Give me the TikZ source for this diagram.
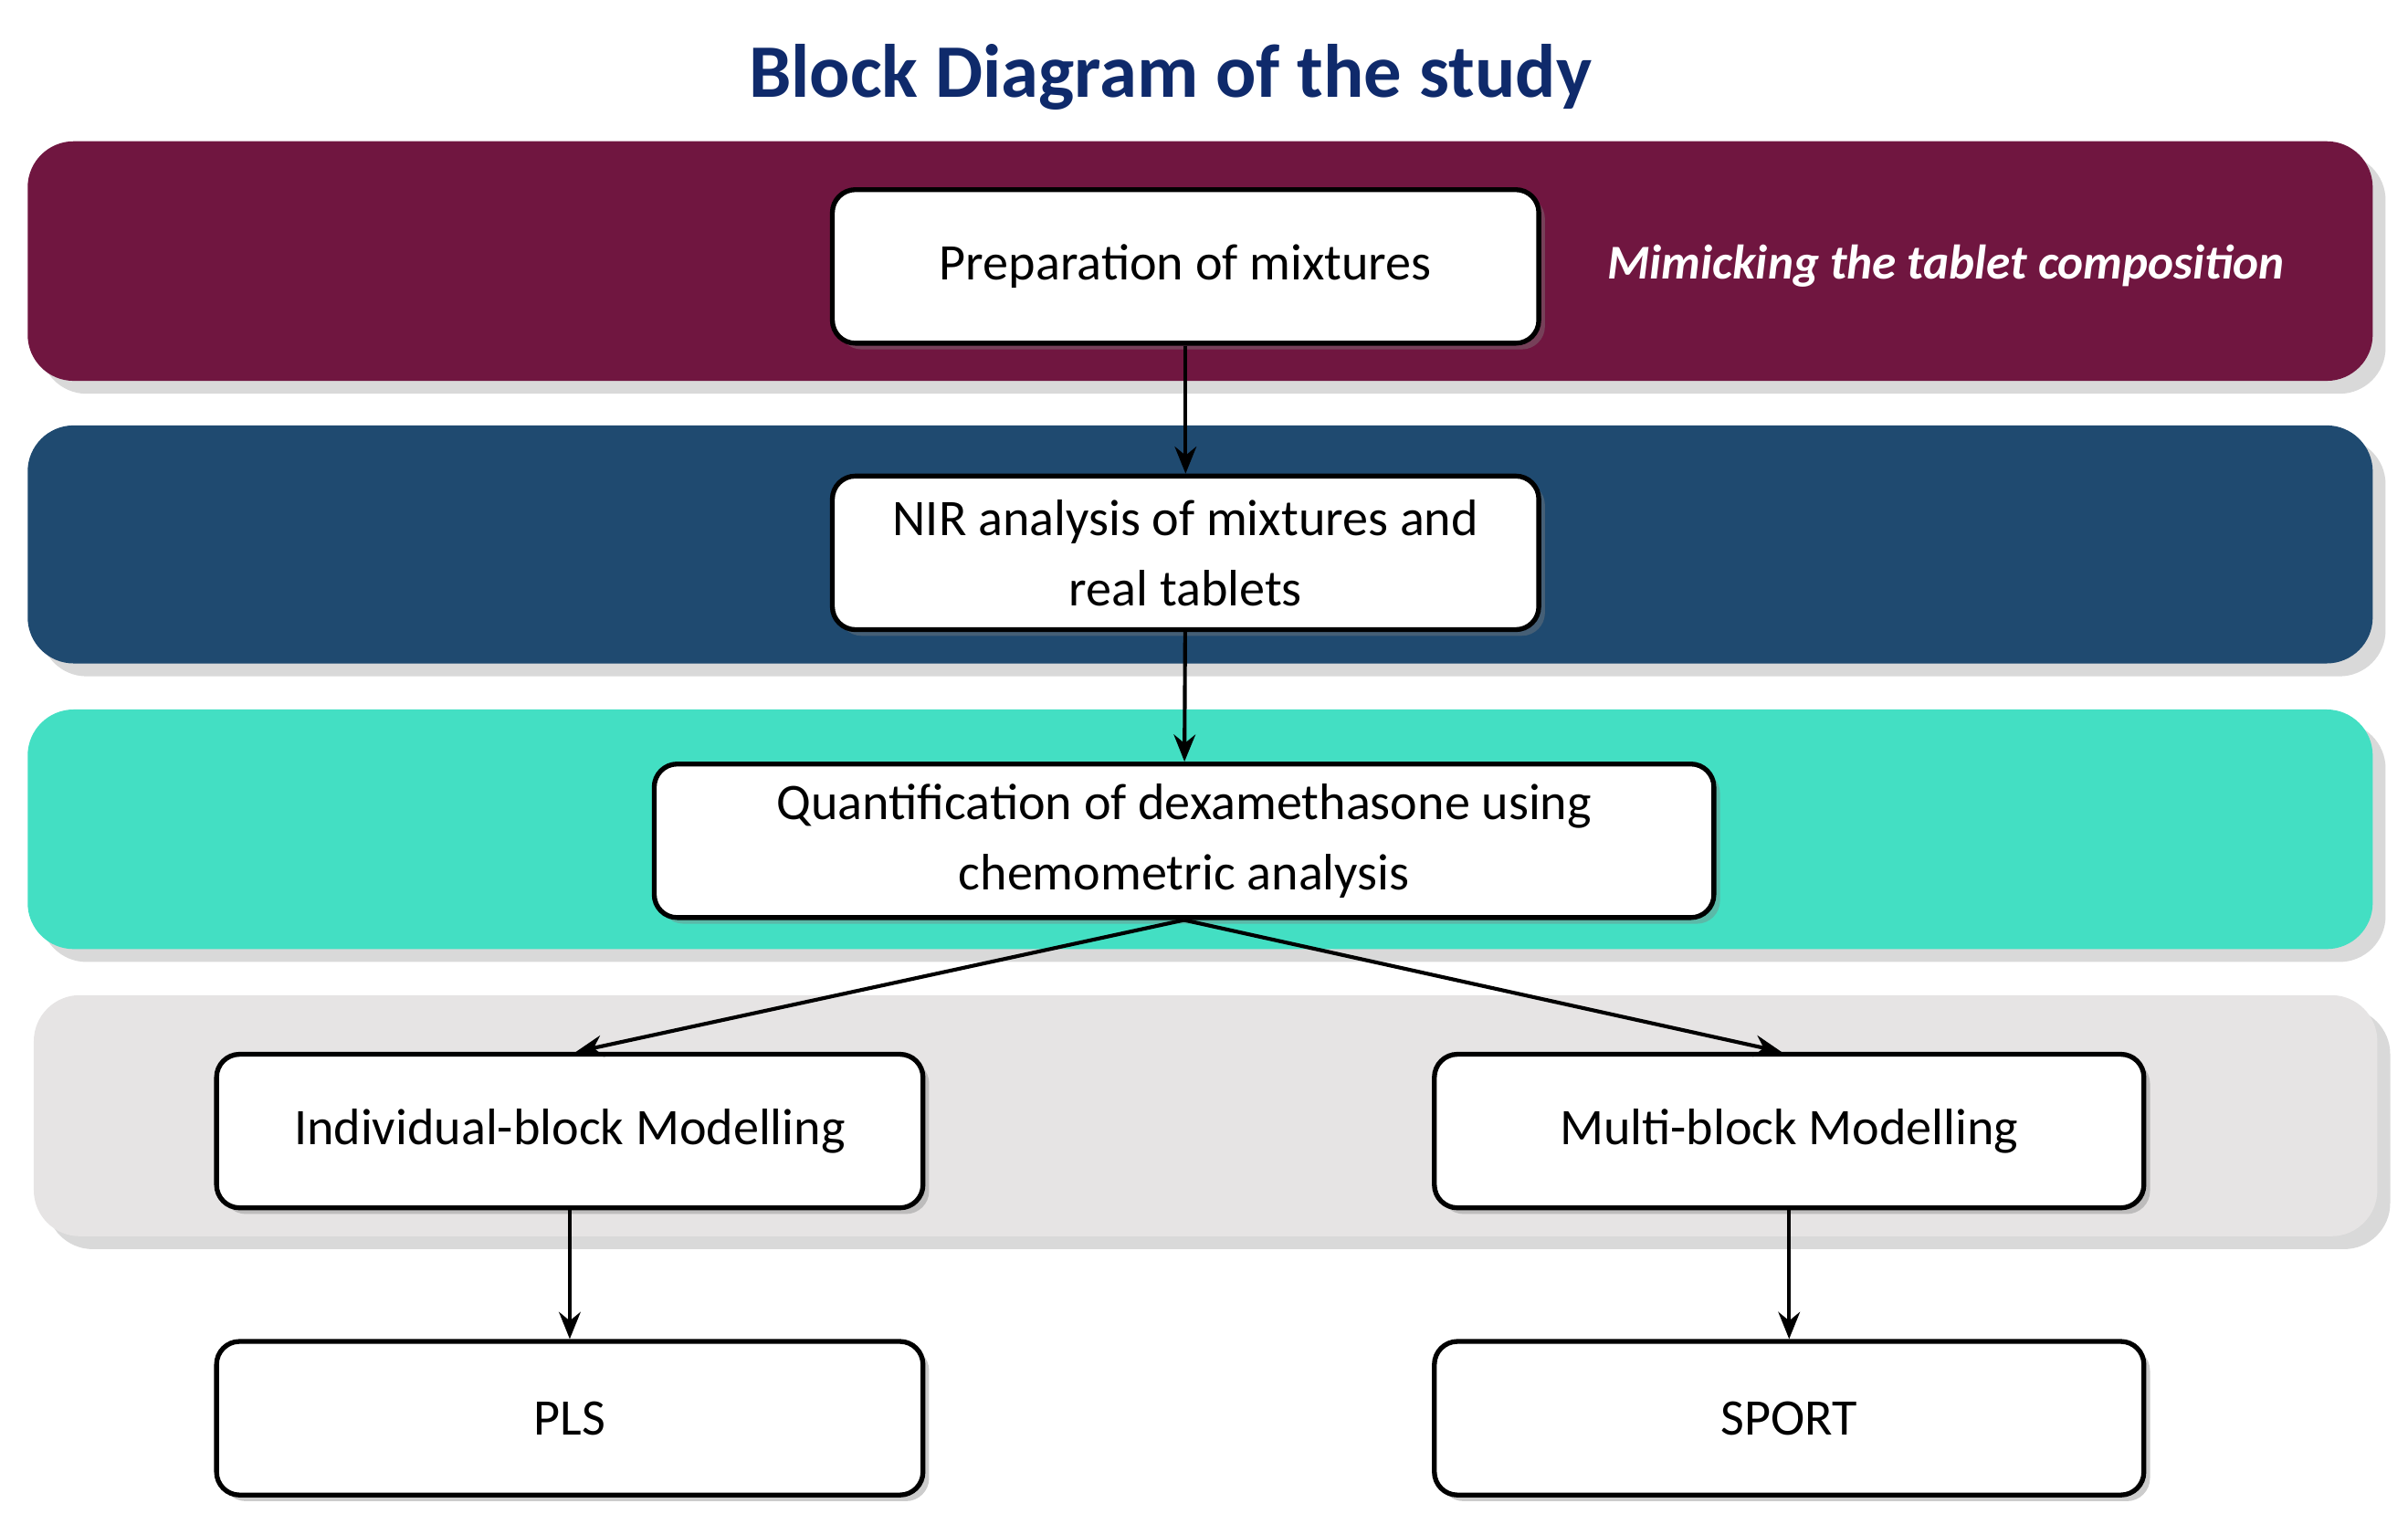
\documentclass[tikz,border=0pt]{standalone}
\usepackage{fontspec}
\setmainfont{Carlito}
\usetikzlibrary{shadows,arrows.meta}
\definecolor{bandred}{HTML}{701640}
\definecolor{bandblue}{HTML}{1F4A70}
\definecolor{bandcyan}{HTML}{43DFC3}
\definecolor{bandgray}{HTML}{E6E4E4}
\definecolor{titleblue}{HTML}{0F2A6B}
\tikzset{
  band/.style={rounded corners=0.3cm, draw=none, drop shadow={opacity=0.3}},
  stagebox/.style={draw=black, line width=0.9pt, fill=white, rounded corners=0.15cm,
    align=center, font=\fontsize{9.5}{13}\selectfont, inner sep=0pt,
    drop shadow={opacity=0.4, shadow xshift=0.04cm, shadow yshift=-0.04cm}},
  flow/.style={-{Stealth[length=5pt,width=4pt]}, line width=0.7pt}
}
\begin{document}
\begin{tikzpicture}
  \useasboundingbox (0cm,0cm) rectangle (15.68cm,-9.99cm);
  \node[font=\fontsize{14}{16}\bfseries\selectfont, text=titleblue] (title) at (7.62cm,-0.5cm) {Block Diagram of the study};
  % bands
  \filldraw[band, fill=bandred] (0.18cm,-0.92cm) rectangle (15.45cm,-2.48cm);
  \filldraw[band, fill=bandblue] (0.18cm,-2.77cm) rectangle (15.45cm,-4.32cm);
  \filldraw[band, fill=bandcyan] (0.18cm,-4.62cm) rectangle (15.45cm,-6.18cm);
  \filldraw[band, fill=bandgray] (0.22cm,-6.48cm) rectangle (15.48cm,-8.05cm);
  \node[text=white, font=\fontsize{9}{11}\bfseries\itshape\selectfont] (mimic) at (12.67cm,-1.73cm) {Mimicking the tablet composition};
  % stages
  \node[stagebox, minimum width=4.6cm, minimum height=1.0cm] (prep) at (7.72cm,-1.735cm) {Preparation of mixtures};
  \node[stagebox, minimum width=4.6cm, minimum height=1.0cm] (nir) at (7.72cm,-3.6cm) {NIR analysis of mixtures and\\real tablets};
  \node[stagebox, minimum width=6.9cm, minimum height=1.0cm] (quant) at (7.71cm,-5.475cm) {Quantification of dexamethasone using\\chemometric analysis};
  \node[stagebox, minimum width=4.6cm, minimum height=1.0cm] (indiv) at (3.71cm,-7.365cm) {Individual-block Modelling};
  \node[stagebox, minimum width=4.62cm, minimum height=1.0cm] (multi) at (11.65cm,-7.365cm) {Multi-block Modelling};
  \node[stagebox, minimum width=4.6cm, minimum height=1.0cm] (pls) at (3.71cm,-9.235cm) {PLS};
  \node[stagebox, minimum width=4.62cm, minimum height=1.0cm] (sport) at (11.65cm,-9.235cm) {SPORT};
  % connectors
  \draw[flow] (prep) -- (nir);
  \draw[flow] (nir) -- (quant);
  \draw[flow] (quant.south) -- ([xshift=0.04cm]indiv.north);
  \draw[flow] (quant.south) -- ([xshift=-0.05cm]multi.north);
  \draw[flow] (indiv) -- (pls);
  \draw[flow] (multi) -- (sport);
\end{tikzpicture}
\end{document}
